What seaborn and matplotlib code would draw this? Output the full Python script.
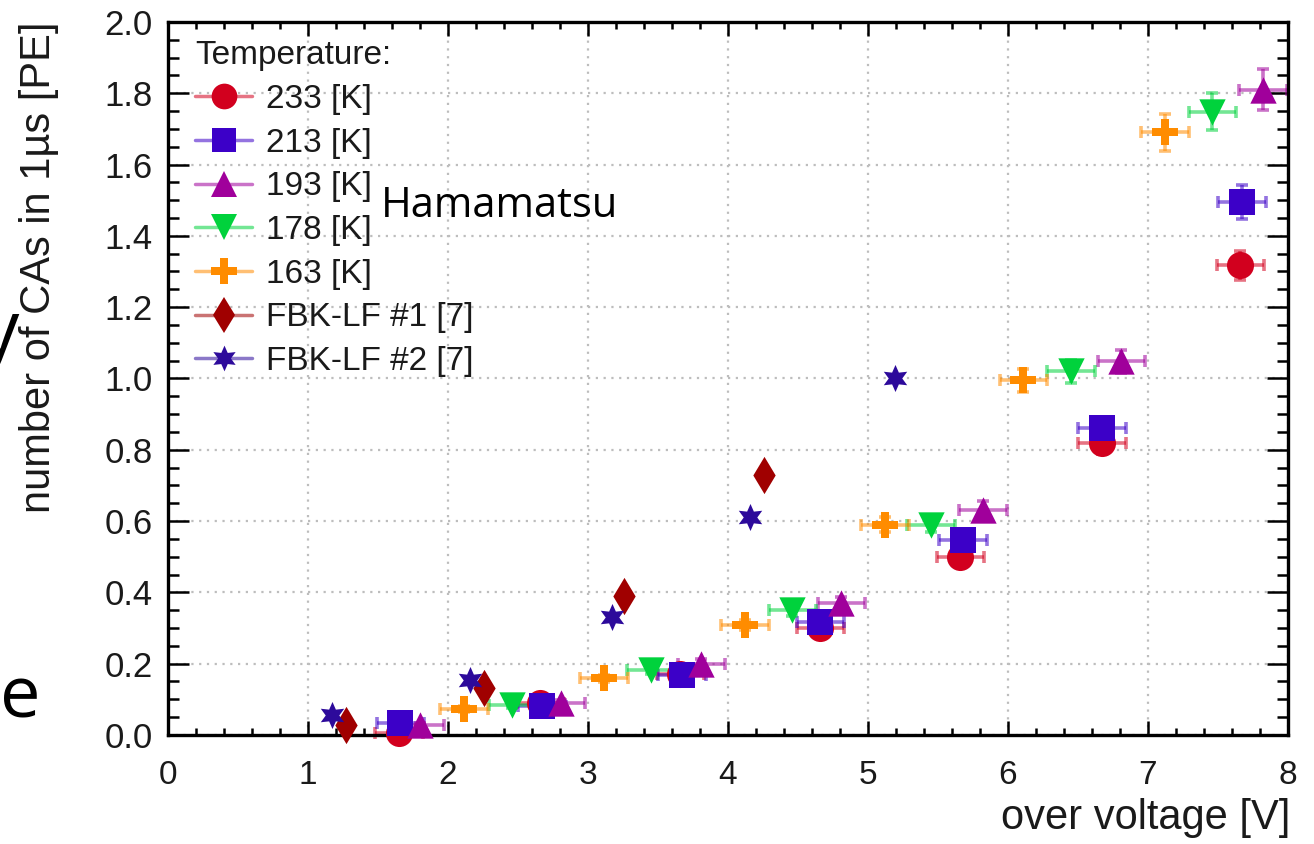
import numpy as np
import pandas as pd
import matplotlib.pyplot as plt
import seaborn as sns
from matplotlib.lines import Line2D
from matplotlib.ticker import MultipleLocator, FormatStrFormatter

# over voltage [V] / number of correlated avalanches in 1 us [PE]
volt_233 = [1.65, 2.66, 3.66, 4.66, 5.66, 6.67, 7.66]
ca_233 = [0.005, 0.09, 0.17, 0.30, 0.50, 0.818, 1.317]
err_233 = [0.005, 0.008, 0.01, 0.015, 0.02, 0.03, 0.04]

volt_213 = [1.66, 2.67, 3.67, 4.66, 5.68, 6.67, 7.67]
ca_213 = [0.033, 0.081, 0.168, 0.318, 0.547, 0.86, 1.495]
err_213 = [0.005, 0.008, 0.01, 0.015, 0.02, 0.03, 0.048]

volt_193 = [1.80, 2.81, 3.81, 4.81, 5.82, 6.81, 7.82]
ca_193 = [0.028, 0.089, 0.20, 0.37, 0.63, 1.048, 1.81]
err_193 = [0.005, 0.008, 0.012, 0.018, 0.025, 0.033, 0.057]

volt_178 = [2.46, 3.45, 4.46, 5.45, 6.45, 7.46]
ca_178 = [0.084, 0.182, 0.35, 0.59, 1.02, 1.748]
err_178 = [0.008, 0.01, 0.015, 0.022, 0.032, 0.052]

volt_163 = [2.115, 3.115, 4.12, 5.12, 6.11, 7.12]
ca_163 = [0.072, 0.159, 0.308, 0.59, 0.995, 1.69]
err_163 = [0.008, 0.01, 0.015, 0.022, 0.032, 0.053]

volt_fbk1 = [1.27, 2.26, 3.26, 4.26]
ca_fbk1 = [0.028, 0.131, 0.39, 0.729]

volt_fbk2 = [1.17, 2.16, 3.17, 4.16, 5.19]
ca_fbk2 = [0.056, 0.154, 0.33, 0.612, 1.0]

volt_err = 0.17

labels = ['233 [K]', '213 [K]', '193 [K]', '178 [K]', '163 [K]', 'FBK-LF #1 [7]', 'FBK-LF #2 [7]']
colors = ['#d2001e', '#3c00c8', '#a0009b', '#00d23c', '#ff8c00', '#a00000', '#2d0a9b']
markers = ['o', 's', '^', 'v', 'P', 'd', (6, 1, 0)]
sizes = [380, 330, 360, 360, 360, 360, 380]

series = [
    (volt_233, ca_233, err_233),
    (volt_213, ca_213, err_213),
    (volt_193, ca_193, err_193),
    (volt_178, ca_178, err_178),
    (volt_163, ca_163, err_163),
    (volt_fbk1, ca_fbk1, None),
    (volt_fbk2, ca_fbk2, None),
]

sns.set_theme(style='ticks')
plt.rcParams['font.family'] = ['Liberation Sans', 'DejaVu Sans']

fig = plt.figure(figsize=(13.14, 8.44), dpi=100, facecolor='white')
ax = fig.add_axes([0.1279, 0.1292, 0.8523, 0.8448])

handles = []
for (x, y, yerr), lab, col, mk, s in zip(series, labels, colors, markers, sizes):
    df = pd.DataFrame({'volt': x, 'ca': y})
    if yerr is not None:
        ax.errorbar(df['volt'], df['ca'], xerr=volt_err, yerr=yerr, fmt='none',
                    ecolor=col, alpha=0.55, elinewidth=2.6, capsize=4, capthick=2.6,
                    zorder=2, clip_on=False)
    sns.scatterplot(data=df, x='volt', y='ca', ax=ax, color=col, marker=mk, s=s,
                    linewidth=0, zorder=3, clip_on=False, legend=False)
    handles.append(Line2D([], [], color=col, lw=0, marker=mk, markersize=np.sqrt(s) * 0.95,
                          markerfacecolor=col, markeredgewidth=0))

# lighter line through the legend markers, ROOT style
leg_handles = []
for h, col in zip(handles, colors):
    ln = Line2D([], [], color=col, lw=2.5, alpha=0.55)
    leg_handles.append((ln, h))

leg = ax.legend(leg_handles, labels, title='Temperature:', loc='upper left',
                bbox_to_anchor=(0.024, 0.974), frameon=False, fontsize=24,
                title_fontsize=24, handlelength=1.72, handletextpad=0.4,
                labelspacing=0.38, borderpad=0, borderaxespad=0, alignment='left')
for t in leg.get_texts() + [leg.get_title()]:
    t.set_color('#1a1a1a')

ax.set_xlim(0, 8)
ax.set_ylim(0, 2)
ax.xaxis.set_major_locator(MultipleLocator(1))
ax.xaxis.set_minor_locator(MultipleLocator(0.2))
ax.yaxis.set_major_locator(MultipleLocator(0.2))
ax.yaxis.set_minor_locator(MultipleLocator(0.05))
ax.yaxis.set_major_formatter(FormatStrFormatter('%.1f'))

ax.grid(True, which='major', linestyle=(0, (1, 2.5)), color='#bdbdbd', lw=1.6, zorder=0)
for sp in ax.spines.values():
    sp.set_linewidth(2.4)
    sp.set_color('black')

ax.tick_params(axis='both', which='both', direction='in', top=True, right=True,
               colors='black', labelcolor='#1a1a1a', width=1.8)
ax.tick_params(axis='x', which='major', length=10, pad=18, labelsize=24)
ax.tick_params(axis='x', which='minor', length=5)
ax.tick_params(axis='y', which='major', length=15, pad=11, labelsize=25)
ax.tick_params(axis='y', which='minor', length=8)

ax.set_xlabel('over voltage [V]', fontsize=30, loc='right', color='#1a1a1a')
ax.xaxis.set_label_coords(1.002, -0.089)
ax.set_ylabel('number of CAs in 1µs [PE]', fontsize=30, loc='top', color='#1a1a1a')
ax.yaxis.set_label_coords(-0.097, 1.0)

ax.text(381 / 1314, (844 - 217) / 844, 'Hamamatsu', transform=fig.transFigure,
        fontsize=30, family='Open Sans', color='black', va='baseline', ha='left')

# fragments of the surrounding slide text
fig.text(19 / 1314, (844 - 355) / 844, 'y', fontsize=55, family='Open Sans',
         color='black', ha='right', va='baseline')
fig.text(0.0, (844 - 717) / 844, 'e', fontsize=52, family='Open Sans',
         color='black', ha='left', va='baseline')

plt.savefig('out.png', dpi=100, facecolor='white')
